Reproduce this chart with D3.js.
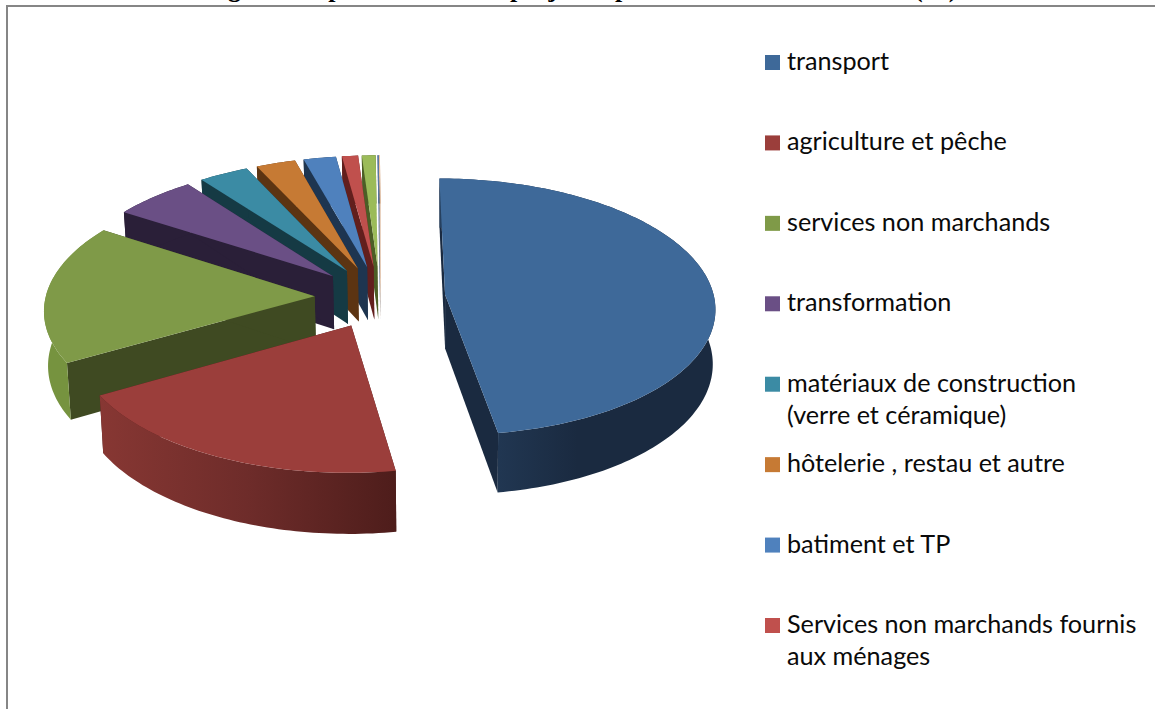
<!DOCTYPE html>
<html>
<head>
<meta charset="utf-8">
<script src="https://cdn.jsdelivr.net/npm/d3@7"></script>
<style>
  html, body { margin: 0; padding: 0; background: #fff; overflow: hidden; }
  svg { display: block; }
</style>
</head>
<body>
<div id="chart"></div>
<script>
// values, in %
const values = [47.5, 19.17, 17.5, 5.55, 3.33, 2.64, 2.17, 1.08, 0.92, 0.08, 0.06];
const legendLabels = [
  ["transport"],
  ["agriculture et pêche"],
  ["services non marchands"],
  ["transformation"],
  ["matériaux de construction", "(verre et céramique)"],
  ["hôtelerie , restau et autre"],
  ["batiment et TP"],
  ["Services non marchands fournis", "aux ménages"]
];
const topColors = ["#3e6999", "#9b3e3b", "#7f9a48", "#6a4f85", "#3b8ba4", "#c67a34", "#4f81bd", "#c0504d", "#9bbb59", "#5f7fae", "#f0c8a0"];
const edgeColors = ["#1a2a40", "#4e1d1b", "#3f4a22", "#2a1f38", "#153a44", "#5c3412", "#1e3550", "#621f1d", "#4c5e26", "#2a3f60", "#d8b090"];
// outer wall shading, left to right
const wallStops = [
  ["#26405f", "#1a2a40", "#1a2a40"],
  ["#873733", "#6e2c2a", "#4e1d1b"],
  ["#76933f", "#76933f", "#6b8439"]
];
// title is justified in the source, so each word gets its own start
const titleWords = ["Figure :", "Répartition", "des", "projets", "par", "secteurs", "d'activité", "(%)"];
const titleStarts = [205, 298, 445, 510, 615, 662, 775, 914];

const width = 1155, height = 709;
const pie3d = {cx: 380, cy: 297, rx: 269, ry: 127.5, persp: 0.095, explode: 0.243, depth: 54, taperX: 450, taper: 0.99};

const svg = d3.select("#chart").append("svg")
    .attr("width", width)
    .attr("height", height);
const defs = svg.append("defs");

svg.append("text")
    .attr("y", -2.6)
    .attr("font-family", "'Liberation Serif'")
    .attr("font-weight", "bold")
    .attr("font-size", 26)
    .attr("fill", "#000")
    .selectAll("tspan")
    .data(titleWords)
    .join("tspan")
    .attr("x", (d, i) => titleStarts[i])
    .text(d => d);

// chart frame, runs off the right and bottom of the picture
svg.append("rect")
    .attr("x", 7)
    .attr("y", 6)
    .attr("width", width + 20)
    .attr("height", height + 20)
    .attr("fill", "#fff")
    .attr("stroke", "#868686")
    .attr("stroke-width", 2);

// disk coords (u right, v towards the viewer) to screen
function project(u, v, low) {
    const s = 1 / (1 - pie3d.persp * v);
    const x = pie3d.cx + pie3d.rx * u * s;
    return [
        low ? pie3d.taperX + (x - pie3d.taperX) * pie3d.taper : x,
        pie3d.cy + (pie3d.ry * v + (low ? pie3d.depth : 0)) * s
    ];
}

const line = d3.line();
const arcs = d3.pie().sort(null)(values);

const slices = arcs.map((a, i) => {
    const mid = (a.startAngle + a.endAngle) / 2;
    const ox = pie3d.explode * Math.sin(mid);
    const oy = -pie3d.explode * Math.cos(mid);
    const n = Math.max(2, Math.ceil((a.endAngle - a.startAngle) / 0.02));
    const rim = d3.range(n + 1).map(k => {
        const t = a.startAngle + (a.endAngle - a.startAngle) * k / n;
        return [ox + Math.sin(t), oy - Math.cos(t)];
    });
    return {i, oy, apex: [ox, oy], rim};
});

// painter's order, back slices first
slices.sort((p, q) => d3.ascending(p.oy, q.oy));

const g = svg.append("g");
slices.forEach(s => {
    const hi = s.rim.map(d => project(d[0], d[1], false));
    const lo = s.rim.map(d => project(d[0], d[1], true));
    const apexHi = project(s.apex[0], s.apex[1], false);
    const apexLo = project(s.apex[0], s.apex[1], true);
    const group = g.append("g").attr("class", "slice");

    // flat cut walls
    [[hi[0], lo[0]], [hi[hi.length - 1], lo[lo.length - 1]]].forEach(w => {
        group.append("path")
            .attr("d", line([apexHi, w[0], w[1], apexLo]) + "Z")
            .attr("fill", edgeColors[s.i]);
    });

    // outer curved wall
    let wallFill = edgeColors[s.i];
    if (wallStops[s.i]) {
        const id = "wall" + s.i;
        const grad = defs.append("linearGradient")
            .attr("id", id)
            .attr("gradientUnits", "userSpaceOnUse")
            .attr("x1", d3.min(hi, d => d[0]))
            .attr("x2", d3.max(hi, d => d[0]))
            .attr("y1", 0)
            .attr("y2", 0);
        wallStops[s.i].forEach((c, k) => {
            grad.append("stop").attr("offset", k / 2).attr("stop-color", c);
        });
        wallFill = `url(#${id})`;
    }
    group.append("path")
        .attr("d", line(hi.concat(lo.slice().reverse())) + "Z")
        .attr("fill", wallFill);

    // top face
    group.append("path")
        .attr("d", line([apexHi].concat(hi)) + "Z")
        .attr("fill", topColors[s.i]);
});

// legend
const legendY = d3.scaleLinear().domain([0, legendLabels.length - 1]).range([62.5, 625.5]);
const legend = svg.selectAll(".legend-item")
    .data(legendLabels)
    .join("g")
    .attr("class", "legend-item")
    .attr("transform", (d, i) => `translate(765,${legendY(i)})`);

legend.append("rect")
    .attr("x", 0)
    .attr("y", -7.5)
    .attr("width", 15)
    .attr("height", 15)
    .attr("fill", (d, i) => topColors[i]);

legend.append("text")
    .attr("font-family", "Lato")
    .attr("font-size", 25.2)
    .attr("fill", "#0a0a0a")
    .selectAll("tspan")
    .data(d => d)
    .join("tspan")
    .attr("x", 22)
    .attr("y", (d, i) => 7.5 + i * 32)
    .text(d => d);
</script>
</body>
</html>
